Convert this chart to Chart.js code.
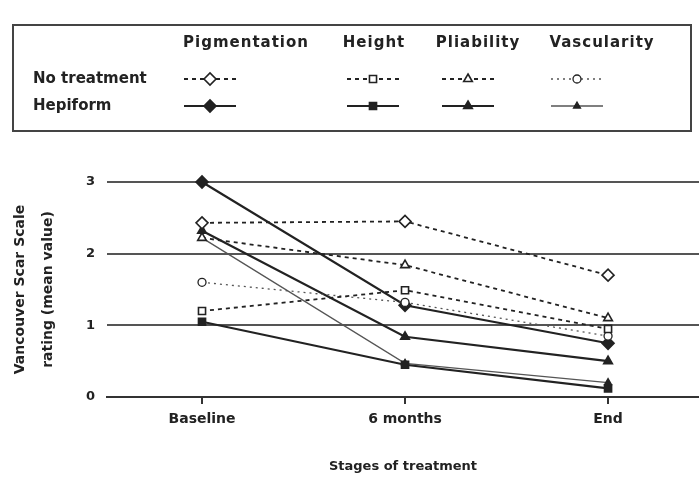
<!DOCTYPE html>
<html>
<head>
<meta charset="utf-8">
<title>Vancouver Scar Scale rating</title>
<script src="https://cdn.jsdelivr.net/npm/chart.js@4.4.0/dist/chart.umd.min.js"></script>
<style>
  html, body { margin: 0; padding: 0; background: #fff; }
</style>
</head>
<body>
<canvas id="scar-chart" width="699" height="479"></canvas>
<script>
// categories and labels
const stages = ["Baseline", "6 months", "End"];
const measures = ["Pigmentation", "Height", "Pliability", "Vascularity"];
const groups = ["No treatment", "Hepiform"];

// mean values
const noTreatPigmentation = [2.43, 2.45, 1.70];
const noTreatHeight = [1.20, 1.49, 0.95];
const noTreatPliability = [2.22, 1.84, 1.10];
const noTreatVascularity = [1.60, 1.32, 0.85];
const hepiformPigmentation = [3.00, 1.28, 0.75];
const hepiformHeight = [1.05, 0.45, 0.12];
const hepiformPliability = [2.32, 0.84, 0.50];
const hepiformVascularity = [2.22, 0.47, 0.20];

const FONT = '"DejaVu Sans", "Liberation Sans", sans-serif';
const INK = "#222";

function series(group, measure, values, style) {
  const open = group === 0;
  return {
    label: groups[group] + " - " + measures[measure],
    group: group,
    measure: measure,
    data: values.map((v, i) => ({ x: i, y: v })),
    borderColor: style.line || INK,
    borderWidth: style.width,
    borderDash: style.dash || [],
    pointStyle: style.point,
    pointRadius: style.radius,
    pointBorderWidth: style.pointWidth || 1.6,
    pointBorderColor: INK,
    pointBackgroundColor: open ? "#fff" : INK,
    tension: 0,
    fill: false,
    clip: false,
  };
}

const datasets = [
  series(0, 0, noTreatPigmentation, { width: 1.8, dash: [4, 4], point: "rectRot", radius: 6 }),
  series(0, 1, noTreatHeight, { width: 1.8, dash: [4, 4], point: "rect", radius: 5 }),
  series(0, 2, noTreatPliability, { width: 1.8, dash: [4, 4], point: "triangle", radius: 5 }),
  series(0, 3, noTreatVascularity, { width: 1.3, dash: [2, 4], point: "circle", radius: 4, line: "#555", pointWidth: 1.3 }),
  series(1, 0, hepiformPigmentation, { width: 2.2, point: "rectRot", radius: 6 }),
  series(1, 1, hepiformHeight, { width: 2.2, point: "rect", radius: 5 }),
  series(1, 2, hepiformPliability, { width: 2.2, point: "triangle", radius: 5 }),
  series(1, 3, hepiformVascularity, { width: 1.3, point: "triangle", radius: 4, line: "#555", pointWidth: 1.3 }),
];

// boxed legend table above the plot
const tableLegend = {
  id: "tableLegend",
  afterDraw(chart) {
    const ctx = chart.ctx;
    const headX = [246, 374, 478, 602];
    const sampleX = [210, 373, 468, 577];
    const rowY = [79, 106];
    ctx.save();
    ctx.strokeStyle = "#444";
    ctx.lineWidth = 2;
    ctx.strokeRect(13, 25, 678, 106);

    ctx.fillStyle = INK;
    ctx.font = "bold 15px " + FONT;
    ctx.textBaseline = "middle";
    ctx.textAlign = "center";
    ctx.letterSpacing = "1px";
    measures.forEach((m, i) => ctx.fillText(m, headX[i], 43));
    ctx.letterSpacing = "0px";
    ctx.textAlign = "left";
    groups.forEach((g, i) => ctx.fillText(g, 33, rowY[i]));

    chart.data.datasets.forEach((ds) => {
      const x = sampleX[ds.measure];
      const y = rowY[ds.group];
      ctx.strokeStyle = ds.borderColor;
      ctx.lineWidth = ds.borderWidth;
      ctx.setLineDash(ds.borderDash);
      ctx.beginPath();
      ctx.moveTo(x - 26, y);
      ctx.lineTo(x + 26, y);
      ctx.stroke();
      ctx.setLineDash([]);
      ctx.fillStyle = ds.pointBackgroundColor;
      ctx.strokeStyle = ds.pointBorderColor;
      ctx.lineWidth = ds.pointBorderWidth;
      Chart.helpers.drawPoint(ctx, {
        pointStyle: ds.pointStyle,
        radius: ds.pointRadius,
        rotation: 0,
        borderWidth: ds.pointBorderWidth,
      }, x, y);
    });
    ctx.restore();
  },
};

new Chart(document.getElementById("scar-chart"), {
  type: "line",
  data: { datasets: datasets },
  options: {
    responsive: false,
    animation: false,
    layout: { autoPadding: false, padding: { top: 182, left: 0, right: 0, bottom: 0 } },
    plugins: { legend: { display: false }, tooltip: { enabled: false } },
    scales: {
      x: {
        type: "linear",
        min: -0.468,
        max: 2.448,
        afterBuildTicks: (s) => { s.ticks = stages.map((_, i) => ({ value: i })); },
        afterFit: (s) => { s.height = 82; },
        ticks: {
          callback: (v) => stages[v] || "",
          color: INK,
          font: { family: FONT, size: 14, weight: "bold" },
          padding: 7,
          maxRotation: 0,
        },
        grid: { drawOnChartArea: false, drawTicks: true, tickLength: 7, color: "#333", lineWidth: 2 },
        border: { display: true, color: "#333", width: 2 },
        title: {
          display: true,
          text: "Stages of treatment",
          color: INK,
          font: { family: FONT, size: 13, weight: "bold" },
          padding: { top: 0, bottom: 5 },
        },
      },
      y: {
        min: 0,
        max: 3,
        afterFit: (s) => { s.width = 107; },
        ticks: {
          stepSize: 1,
          color: INK,
          font: { family: FONT, size: 13, weight: "bold" },
          padding: 12,
        },
        grid: { color: "#555", lineWidth: 2, drawTicks: false },
        border: { display: false },
        title: {
          display: true,
          text: ["Vancouver Scar Scale", "rating (mean value)"],
          color: INK,
          font: { family: FONT, size: 14, weight: "bold", lineHeight: 2.0 },
          padding: { top: 6, bottom: 0 },
        },
      },
    },
  },
  plugins: [tableLegend],
});
</script>
</body>
</html>
